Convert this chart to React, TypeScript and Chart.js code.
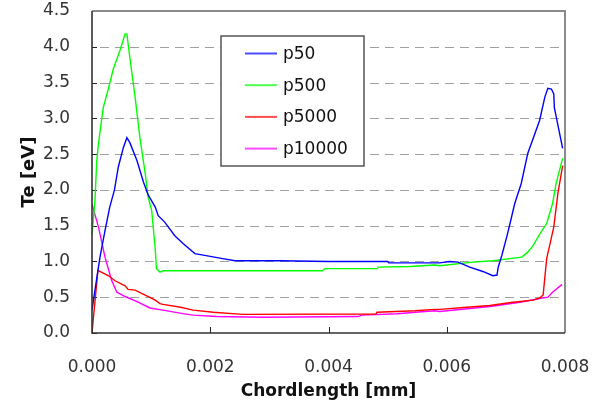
import { useEffect, useRef } from 'react';
import { Chart, registerables } from 'chart.js';

Chart.register(...registerables);

const seriesLabels = ['p50', 'p500', 'p5000', 'p10000'];
const seriesColors = ['#0000ff', '#00ff00', '#ff0000', '#ff00ff'];

const p50X = [0, 0.00005, 0.000135, 0.00022, 0.0003, 0.00038, 0.000445, 0.00053, 0.00059, 0.00064, 0.00076, 0.00087, 0.00095, 0.00107, 0.00112, 0.00123, 0.0014, 0.00154, 0.00174, 0.002, 0.00221, 0.00242, 0.00318, 0.004, 0.005, 0.00502, 0.00588, 0.00605, 0.00619, 0.00639, 0.00661, 0.00678, 0.00685, 0.00687, 0.00693, 0.00702, 0.00707, 0.00715, 0.00726, 0.00737, 0.00757, 0.00766, 0.00771, 0.00777, 0.00781, 0.00782, 0.00796];
const p50Y = [0.32, 0.6, 1.06, 1.43, 1.76, 2.0, 2.32, 2.59, 2.73, 2.66, 2.41, 2.11, 1.93, 1.76, 1.64, 1.55, 1.36, 1.25, 1.11, 1.07, 1.04, 1.01, 1.01, 1.0, 1.0, 0.98, 0.98, 1.0, 0.99, 0.92, 0.86, 0.8, 0.81, 0.92, 1.08, 1.36, 1.53, 1.81, 2.09, 2.51, 2.97, 3.3, 3.42, 3.41, 3.34, 3.15, 2.58];

const p500X = [0, 0.00005, 0.00008, 0.00011, 0.00019, 0.000276, 0.00036, 0.00047, 0.00056, 0.00059, 0.00064, 0.00073, 0.00081, 0.0009, 0.00095, 0.00101, 0.00107, 0.00109, 0.00115, 0.0012, 0.0039, 0.00394, 0.00482, 0.00484, 0.00538, 0.0058, 0.00588, 0.00644, 0.00678, 0.00707, 0.00727, 0.00737, 0.00746, 0.00757, 0.00769, 0.00779, 0.00785, 0.00796];
const p500Y = [1.37, 1.85, 2.4, 2.65, 3.15, 3.41, 3.69, 3.94, 4.18, 4.18, 3.85, 3.29, 2.73, 2.23, 1.9, 1.71, 1.17, 0.9, 0.85, 0.87, 0.87, 0.9, 0.9, 0.92, 0.93, 0.95, 0.94, 0.99, 1.01, 1.04, 1.06, 1.13, 1.22, 1.38, 1.53, 1.81, 2.09, 2.44];

const p5000X = [0, 0.0001, 0.00028, 0.00039, 0.00056, 0.00061, 0.00073, 0.0009, 0.00107, 0.00115, 0.0012, 0.0015, 0.00171, 0.00205, 0.00255, 0.0048, 0.00482, 0.00546, 0.0058, 0.00588, 0.00634, 0.00673, 0.00712, 0.00746, 0.00757, 0.00763, 0.00769, 0.00781, 0.00788, 0.00796];
const p5000Y = [0, 0.875, 0.8, 0.73, 0.66, 0.61, 0.6, 0.53, 0.46, 0.41, 0.4, 0.36, 0.32, 0.29, 0.26, 0.265, 0.29, 0.31, 0.33, 0.33, 0.36, 0.385, 0.43, 0.46, 0.49, 0.53, 1.04, 1.48, 1.95, 2.34];

const p10000X = [0, 0.00011, 0.00022, 0.00033, 0.00042, 0.00056, 0.00078, 0.00098, 0.0012, 0.00154, 0.00171, 0.00211, 0.00289, 0.0045, 0.00456, 0.00516, 0.00563, 0.0058, 0.00588, 0.00673, 0.00724, 0.00757, 0.00771, 0.00779, 0.00795];
const p10000Y = [1.8, 1.48, 1.06, 0.74, 0.57, 0.51, 0.43, 0.35, 0.32, 0.27, 0.25, 0.23, 0.22, 0.23, 0.25, 0.27, 0.3, 0.31, 0.3, 0.37, 0.43, 0.48, 0.5, 0.57, 0.68];

const seriesX = [p50X, p500X, p5000X, p10000X];
const seriesY = [p50Y, p500Y, p5000Y, p10000Y];

const xTicks = [0, 0.002, 0.004, 0.006, 0.008];
const yTicks = [0, 0.5, 1.0, 1.5, 2.0, 2.5, 3.0, 3.5, 4.0, 4.5];

const xTitle = 'Chordlength [mm]';
const yTitle = 'Te [eV]';

const FONT = "'DejaVu Sans', sans-serif";

const framePlugin = {
  id: 'excelFrame',
  beforeDatasetsDraw(chart: any) {
    const { ctx, chartArea } = chart;
    const { left, right, bottom } = chartArea;
    const ys = chart.scales.y;
    const xs = chart.scales.x;
    ctx.save();
    ctx.strokeStyle = '#a0a0a0';
    ctx.lineWidth = 1;
    ctx.setLineDash([9, 6]);
    yTicks.forEach((v) => {
      if (v === yTicks[0] || v === yTicks[yTicks.length - 1]) return;
      const py = Math.round(ys.getPixelForValue(v)) + 0.5;
      ctx.beginPath();
      ctx.moveTo(left + 8, py);
      ctx.lineTo(right, py);
      ctx.stroke();
    });
    ctx.setLineDash([]);
    ctx.strokeStyle = '#222';
    ctx.lineWidth = 1;
    yTicks.forEach((v) => {
      const py = Math.round(ys.getPixelForValue(v)) + 0.5;
      ctx.beginPath();
      ctx.moveTo(left, py);
      ctx.lineTo(left + 5, py);
      ctx.stroke();
    });
    xTicks.forEach((v) => {
      const px = Math.round(xs.getPixelForValue(v)) + 0.5;
      ctx.beginPath();
      ctx.moveTo(px, bottom);
      ctx.lineTo(px, bottom - 6);
      ctx.stroke();
    });
    ctx.restore();
  },
  afterDatasetsDraw(chart: any) {
    const { ctx, chartArea } = chart;
    const { left, right, top, bottom } = chartArea;
    ctx.save();
    ctx.strokeStyle = '#8a8a8a';
    ctx.lineWidth = 2;
    ctx.beginPath();
    ctx.moveTo(left, top);
    ctx.lineTo(right, top);
    ctx.lineTo(right, bottom);
    ctx.stroke();
    ctx.strokeStyle = '#333';
    ctx.lineWidth = 1.6;
    ctx.beginPath();
    ctx.moveTo(left, top);
    ctx.lineTo(left, bottom);
    ctx.lineTo(right, bottom);
    ctx.stroke();

    const bx = 221, by = 36, bw = 143, bh = 130;
    ctx.fillStyle = '#ffffff';
    ctx.fillRect(bx, by, bw, bh);
    ctx.strokeStyle = '#555';
    ctx.lineWidth = 1.5;
    ctx.strokeRect(bx, by, bw, bh);
    ctx.font = `17px ${FONT}`;
    ctx.textBaseline = 'middle';
    ctx.textAlign = 'left';
    chart.data.datasets.forEach((ds: any, i: number) => {
      const ry = by + 17.5 + i * 31.7;
      ctx.strokeStyle = ds.borderColor;
      ctx.lineWidth = 2;
      ctx.globalAlpha = 0.7;
      ctx.beginPath();
      ctx.moveTo(245, ry);
      ctx.lineTo(277, ry);
      ctx.stroke();
      ctx.globalAlpha = 1;
      ctx.fillStyle = '#111';
      ctx.fillText(ds.label, 283, ry + 1);
    });
    ctx.restore();
  },
};

export default function App() {
  const ref = useRef<HTMLCanvasElement | null>(null);

  useEffect(() => {
    if (!ref.current) return;
    const datasets = seriesLabels.map((label, i) => ({
      label,
      data: seriesX[i].map((x, j) => ({ x, y: seriesY[i][j] })),
      borderColor: seriesColors[i],
      backgroundColor: seriesColors[i],
      borderWidth: 1.4,
      pointRadius: 0,
      tension: 0,
      fill: false,
    }));
    const chart = new Chart(ref.current, {
      type: 'line',
      data: { datasets },
      plugins: [framePlugin],
      options: {
        animation: false,
        responsive: false,
        maintainAspectRatio: false,
        layout: { padding: { left: 0, right: 33, top: 11, bottom: 0 } },
        plugins: {
          legend: { display: false },
          tooltip: { enabled: false },
        },
        scales: {
          x: {
            type: 'linear',
            min: 0,
            max: 0.008,
            afterBuildTicks: (s: any) => {
              s.ticks = xTicks.map((v) => ({ value: v }));
            },
            afterFit: (s: any) => {
              s.height = 73;
              s.paddingLeft = 0;
              s.paddingRight = 0;
            },
            ticks: {
              callback: (v: any) => Number(v).toFixed(3),
              font: { family: FONT, size: 17 },
              color: '#333',
              padding: 24,
              maxRotation: 0,
              autoSkip: false,
            },
            grid: { display: false, drawTicks: false },
            border: { display: false },
            title: {
              display: true,
              text: xTitle,
              font: { family: FONT, size: 17, weight: 'bold' },
              color: '#111',
              padding: { top: 0, bottom: 4 },
            },
          },
          y: {
            type: 'linear',
            min: 0,
            max: 4.5,
            afterBuildTicks: (s: any) => {
              s.ticks = yTicks.map((v) => ({ value: v }));
            },
            afterFit: (s: any) => {
              s.width = 92;
              s.paddingTop = 0;
              s.paddingBottom = 0;
            },
            ticks: {
              callback: (v: any) => Number(v).toFixed(1),
              font: { family: FONT, size: 17 },
              color: '#333',
              padding: 22,
              autoSkip: false,
            },
            grid: { display: false, drawTicks: false },
            border: { display: false },
            title: {
              display: true,
              text: yTitle,
              font: { family: FONT, size: 18, weight: 'bold' },
              color: '#111',
              padding: { top: 19, bottom: 0 },
            },
          },
        },
      },
    });
    return () => chart.destroy();
  }, []);

  return (
    <div style={{ position: 'absolute', left: 0, top: 0, width: 598, height: 406, background: '#fff' }}>
      <canvas ref={ref} width={598} height={406} style={{ width: 598, height: 406, display: 'block' }} />
    </div>
  );
}
